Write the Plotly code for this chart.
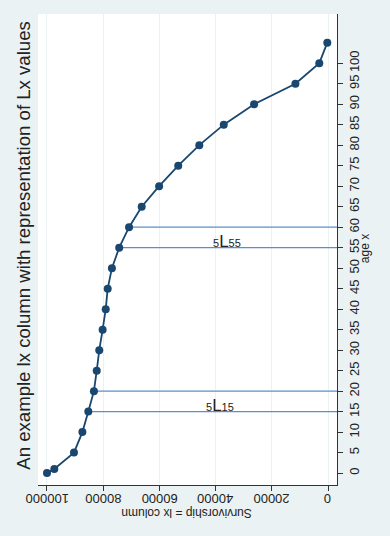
import plotly.graph_objects as go

ages = [0, 1, 5, 10, 15, 20, 25, 30, 35, 40, 45, 50, 55, 60, 65, 70, 75, 80, 85, 90, 95, 100, 105]
lx = [100000, 97400, 90400, 87400, 85300, 83300, 82300, 81400, 80200, 79100, 78400, 76900,
      74300, 70800, 66300, 60100, 53300, 45800, 37100, 26300, 11600, 3100, 250]

# Lx bands to highlight: (start age, width)
bands = [(15, 5), (55, 5)]
band_label_x = [38400, 36000]

x_tick_vals = [0, 20000, 40000, 60000, 80000, 100000]
x_tick_text = ["0", "20000", "40000", "60000", "80000", "100000"]
y_tick_vals = list(range(0, 105, 5))

X_RANGE = [103200, -3200]
Y_RANGE = [-2.9, 112]

NAVY = "#1a476f"
BAND = "#5b8fcc"
BG = "#eaf2f3"
FONT = "Liberation Sans, Arial, sans-serif"

fig = go.Figure()

lx_by_age = dict(zip(ages, lx))
for (a0, w), lab_x in zip(bands, band_label_x):
    for a in (a0, a0 + w):
        fig.add_trace(go.Scatter(x=[lx_by_age[a], X_RANGE[1]], y=[a, a], mode="lines",
                                 line=dict(color=BAND, width=1.2), hoverinfo="skip",
                                 showlegend=False))
    fig.add_annotation(x=lab_x, y=a0 + w / 2 - 0.9, xref="x", yref="y",
                       text=(f'<span style="font-size:11px">{w}</span>L'
                             f'<span style="font-size:11px">{a0}</span>'),
                       showarrow=False,
                       font=dict(family=FONT, size=17, color="#222"))

fig.add_trace(go.Scatter(x=lx, y=ages, mode="lines+markers",
                         line=dict(color=NAVY, width=1.8),
                         marker=dict(color=NAVY, size=8), showlegend=False))

# upside-down x tick labels
for v, t in zip(x_tick_vals, x_tick_text):
    fig.add_annotation(x=v, xref="x", y=-0.029, yref="paper", text=t, textangle=180,
                       showarrow=False, xanchor="center", yanchor="middle",
                       font=dict(family=FONT, size=13, color="#222"))

fig.add_annotation(text="An example lx column with representation of Lx values",
                   xref="paper", yref="paper", x=-0.047, y=0.51, textangle=-90,
                   showarrow=False, xanchor="center", yanchor="middle",
                   font=dict(family=FONT, size=18.6, color="#222"))
fig.add_annotation(text="Survivorship = lx column", xref="paper", yref="paper",
                   x=0.498, y=-0.059, textangle=180, showarrow=False,
                   xanchor="center", yanchor="middle",
                   font=dict(family=FONT, size=12, color="#222"))
fig.add_annotation(text="age x", xref="paper", yref="paper", x=1.094, y=0.501,
                   textangle=-90, showarrow=False, xanchor="center", yanchor="middle",
                   font=dict(family=FONT, size=12, color="#222"))

fig.update_layout(
    width=390, height=536,
    margin=dict(l=38, r=53, t=14, b=51, autoexpand=False),
    paper_bgcolor=BG, plot_bgcolor="white",
    font=dict(family=FONT, size=13, color="#222"),
    xaxis=dict(range=X_RANGE, tickvals=x_tick_vals, showticklabels=False,
               showgrid=True, gridcolor=BG, gridwidth=1, zeroline=False,
               showline=True, linecolor="#333", linewidth=1, automargin=False,
               ticks="outside", ticklen=5, tickcolor="#333"),
    yaxis=dict(range=Y_RANGE, tickvals=y_tick_vals, side="right", tickangle=-90,
               showgrid=False, zeroline=False, automargin=False,
               showline=True, linecolor="#333", linewidth=1,
               ticks="outside", ticklen=5, tickcolor="#333"),
)

fig.write_html("out.html", config={"displayModeBar": False},
               post_script="document.body.style.margin='0';document.body.style.overflow='hidden';")
